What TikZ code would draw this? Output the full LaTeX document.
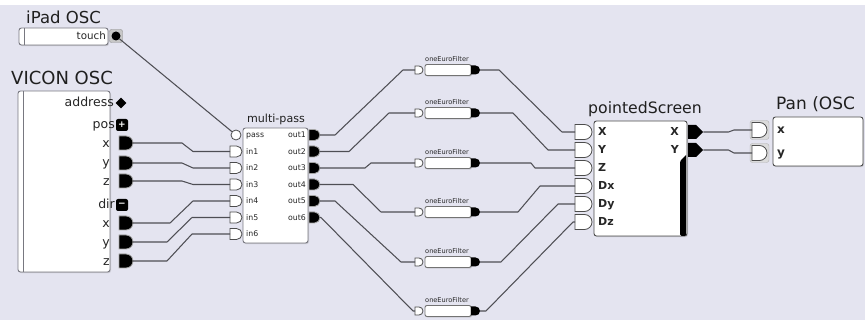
\documentclass[tikz,border=0pt]{standalone}
\usepackage{fontspec}
\setmainfont{DejaVu Sans}
\usetikzlibrary{shapes.misc,shapes.symbols,shapes.geometric,shadows}
\definecolor{bgc}{RGB}{228,228,240}
\definecolor{wirec}{RGB}{78,78,84}
\definecolor{edgec}{RGB}{120,120,128}
\newcommand{\fs}[1]{\fontsize{#1}{#1}\selectfont}
\begin{document}
\begin{tikzpicture}[x=1pt,y=-1pt,
  wire/.style={draw=wirec, line width=1.05pt, line join=round},
  module/.style={draw=edgec, line width=0.9pt, fill=white, rounded corners=2.5pt, inner sep=0, outer sep=0, drop shadow={shadow xshift=1pt, shadow yshift=-1.2pt, opacity=0.25}},
  title/.style={font=\fs{#1}, text=black!88, inner sep=0},
  plabel/.style={font=\fs{#1}, text=black!85, inner sep=0},
  dinport/.style n args={2}{rounded rectangle, rounded rectangle west arc=none, draw=black!70, fill=white, line width=0.8pt, inner sep=0, outer sep=0, minimum width=#1, minimum height=#2, anchor=west},
  doutport/.style n args={2}{rounded rectangle, rounded rectangle west arc=none, draw=black!35, fill=black, line width=0.8pt, inner sep=0, outer sep=0, minimum width=#1, minimum height=#2, anchor=west},
  strip/.style={draw=edgec, line width=0.8pt}
]
\fill[white] (0,0) rectangle (865,320);
\fill[bgc] (0,5) rectangle (865,320);
\useasboundingbox (0,0) rectangle (865,320);

% ---------- iPad OSC
\node[title=16.5, anchor=base west] (ipadT) at (26,24) {iPad OSC};
\node[module, minimum width=89pt, minimum height=17pt, anchor=north west] (ipad) at (19,28) {};
\draw[strip] ([xshift=5pt]ipad.north west) -- ([xshift=5pt]ipad.south west);
\node[plabel=10.3, anchor=base east] (touchL) at (106,40) {touch};
\node[draw=black!45, fill=black!22, rounded corners=2pt, minimum size=13pt, inner sep=0] (touchH) at (116,36) {};
\node[circle, fill=black, minimum size=9pt, inner sep=0] (touch) at (116,36) {};

% ---------- VICON OSC
\node[title=18, anchor=base west] (viconT) at (11,85) {VICON OSC};
\node[module, minimum width=92pt, minimum height=181pt, anchor=north west] (vicon) at (18,91) {};
\draw[strip] ([xshift=5pt]vicon.north west) -- ([xshift=5pt]vicon.south west);
\node[plabel=12.5, anchor=base east] (vaddrL) at (114,107) {address};
\node[diamond, fill=black, minimum size=11pt, inner sep=0] (vaddr) at (121,103) {};
\node[plabel=12.5, anchor=base east] (vposL) at (115,129) {pos};
\node[fill=black, rounded corners=2pt, minimum size=12pt, inner sep=0, text=white, font=\bfseries\fs{9}] (vpos) at (122,125) {+};
\node[plabel=12.5, anchor=base east] (vpxL) at (110,148) {x};
\node[doutport={14pt}{14pt}] (vpx) at (119,143) {};
\node[plabel=12.5, anchor=base east] (vpyL) at (110,167) {y};
\node[doutport={14pt}{14pt}] (vpy) at (119,163) {};
\node[plabel=12.5, anchor=base east] (vpzL) at (110,186) {z};
\node[doutport={14pt}{14pt}] (vpz) at (119,181) {};
\node[plabel=12.5, anchor=base east] (vdirL) at (115,209) {dir};
\node[fill=black, rounded corners=2pt, minimum size=12pt, inner sep=0, text=white, font=\bfseries\fs{9}] (vdir) at (122,205) {−};
\node[plabel=12.5, anchor=base east] (vdxL) at (110,228) {x};
\node[doutport={14pt}{14pt}] (vdx) at (119,223) {};
\node[plabel=12.5, anchor=base east] (vdyL) at (110,247) {y};
\node[doutport={14pt}{14pt}] (vdy) at (119,242) {};
\node[plabel=12.5, anchor=base east] (vdzL) at (110,266) {z};
\node[doutport={14pt}{14pt}] (vdz) at (119,261) {};

% ---------- multi-pass
\node[title=11.1, anchor=base] (mpT) at (276,123) {multi-pass};
\node[module, minimum width=65pt, minimum height=115pt, anchor=north west] (mp) at (243,128) {};
\node[circle, draw=black!70, fill=white, line width=0.8pt, minimum size=10pt, inner sep=0] (pass) at (236,135) {};
\node[dinport={12pt}{11pt}] (in1) at (230,151.5) {};
\node[dinport={12pt}{11pt}] (in2) at (230,168) {};
\node[dinport={12pt}{11pt}] (in3) at (230,184.5) {};
\node[dinport={12pt}{11pt}] (in4) at (230,201) {};
\node[dinport={12pt}{11pt}] (in5) at (230,217.5) {};
\node[dinport={12pt}{11pt}] (in6) at (230,234) {};
\node[plabel=7.8, anchor=base west] (passL) at (246,138) {pass};
\node[plabel=7.8, anchor=base west] (in1L) at (246,154.5) {in1};
\node[plabel=7.8, anchor=base west] (in2L) at (246,171) {in2};
\node[plabel=7.8, anchor=base west] (in3L) at (246,187.5) {in3};
\node[plabel=7.8, anchor=base west] (in4L) at (246,204) {in4};
\node[plabel=7.8, anchor=base west] (in5L) at (246,220.5) {in5};
\node[plabel=7.8, anchor=base west] (in6L) at (246,237) {in6};
\node[doutport={11pt}{11pt}] (out1) at (309,135) {};
\node[doutport={11pt}{11pt}] (out2) at (309,151.5) {};
\node[doutport={11pt}{11pt}] (out3) at (309,168) {};
\node[doutport={11pt}{11pt}] (out4) at (309,184.5) {};
\node[doutport={11pt}{11pt}] (out5) at (309,201) {};
\node[doutport={11pt}{11pt}] (out6) at (309,217.5) {};
\node[plabel=7.8, anchor=base east] (out1L) at (306,138) {out1};
\node[plabel=7.8, anchor=base east] (out2L) at (306,154.5) {out2};
\node[plabel=7.8, anchor=base east] (out3L) at (306,171) {out3};
\node[plabel=7.8, anchor=base east] (out4L) at (306,187.5) {out4};
\node[plabel=7.8, anchor=base east] (out5L) at (306,204) {out5};
\node[plabel=7.8, anchor=base east] (out6L) at (306,220.5) {out6};

% ---------- oneEuroFilters
\foreach \i/\y in {1/70,2/113,3/163,4/212,5/262,6/311}{
  \node[plabel=6.6, anchor=base] (fT\i) at (447,\y-8) {oneEuroFilter};
  \node[module, minimum width=46pt, minimum height=11pt, rounded corners=2pt, draw=black!55] (f\i) at (448,\y) {};
  \node[dinport={8pt}{8pt}] (fin\i) at (415,\y) {};
  \node[doutport={8pt}{9pt}, draw=none] (fout\i) at (471,\y) {};
}

% ---------- pointedScreen
\node[title=15.7, anchor=base] (psT) at (645,114) {pointedScreen};
\node[module, draw=black!70, minimum width=93pt, minimum height=115pt, anchor=north west] (ps) at (594,121) {};
\fill[black] (680,161) -- (686,155) -- (686,234) [rounded corners=1.5pt] -- (686,236) -- (680,236) -- cycle;
\node[dinport={17pt}{15pt}] (psX) at (575,132) {};
\node[dinport={17pt}{15pt}] (psY) at (575,150) {};
\node[dinport={17pt}{15pt}] (psZ) at (575,168) {};
\node[dinport={17pt}{15pt}] (psDx) at (575,186) {};
\node[dinport={17pt}{15pt}] (psDy) at (575,204) {};
\node[dinport={17pt}{15pt}] (psDz) at (575,222) {};
\node[plabel=11, anchor=base west, font=\bfseries\fs{11}] (psXL) at (598,136) {X};
\node[plabel=11, anchor=base west, font=\bfseries\fs{11}] (psYL) at (598,154) {Y};
\node[plabel=11, anchor=base west, font=\bfseries\fs{11}] (psZL) at (598,172) {Z};
\node[plabel=11, anchor=base west, font=\bfseries\fs{11}] (psDxL) at (598,190) {Dx};
\node[plabel=11, anchor=base west, font=\bfseries\fs{11}] (psDyL) at (598,208) {Dy};
\node[plabel=11, anchor=base west, font=\bfseries\fs{11}] (psDzL) at (598,226) {Dz};
\node[plabel=11, anchor=base east, font=\bfseries\fs{11}] (psoXL) at (679,136) {X};
\node[plabel=11, anchor=base east, font=\bfseries\fs{11}] (psoYL) at (679,154) {Y};
\node[signal, signal to=east, fill=black, minimum width=15pt, minimum height=14pt, inner sep=0, anchor=west] (psoX) at (688,132) {};
\node[signal, signal to=east, fill=black, minimum width=15pt, minimum height=14pt, inner sep=0, anchor=west] (psoY) at (688,150) {};

% ---------- Pan (OSC
\node[title=17, anchor=base west] (panT) at (776,110) {Pan (OSC};
\node[module, draw=black!70, minimum width=90pt, minimum height=49pt, anchor=north west] (pan) at (773,117) {};
\node[draw=black!30, fill=black!14, rounded corners=2.5pt, minimum width=19pt, minimum height=19pt, inner sep=0] (panxH) at (759.5,130) {};
\node[draw=black!30, fill=black!14, rounded corners=2.5pt, minimum width=19pt, minimum height=19pt, inner sep=0] (panyH) at (759.5,153) {};
\node[dinport={15pt}{15pt}] (panx) at (752,130) {};
\node[dinport={15pt}{15pt}] (pany) at (752,153) {};
\node[plabel=12, anchor=base west, font=\bfseries\fs{12}] (panxL) at (777,134) {x};
\node[plabel=12, anchor=base west, font=\bfseries\fs{12}] (panyL) at (777,157) {y};

% ---------- connectors
\draw[wire] (touch) -- (pass);
\draw[wire] (vpx.east) -- ([xshift=49pt]vpx.east) -- ([xshift=-37pt]in1.west) -- (in1.west);
\draw[wire] (vpy.east) -- ([xshift=49pt]vpy.east) -- ([xshift=-37pt]in2.west) -- (in2.west);
\draw[wire] (vpz.east) -- ([xshift=49pt]vpz.east) -- ([xshift=-37pt]in3.west) -- (in3.west);
\draw[wire] (vdx.east) -- ([xshift=37pt]vdx.east) -- ([xshift=-37pt]in4.west) -- (in4.west);
\draw[wire] (vdy.east) -- ([xshift=34pt]vdy.east) -- ([xshift=-38pt]in5.west) -- (in5.west);
\draw[wire] (vdz.east) -- ([xshift=34pt]vdz.east) -- ([xshift=-38pt]in6.west) -- (in6.west);

\draw[wire] (out1.east) -- ([xshift=15pt]out1.east) -- ([xshift=-12pt]fin1.west) -- (fin1.west);
\draw[wire] (out2.east) -- ([xshift=29pt]out2.east) -- ([xshift=-26pt]fin2.west) -- (fin2.west);
\draw[wire] (out3.east) -- ([xshift=45pt]out3.east) -- ([xshift=-44pt]fin3.west) -- (fin3.west);
\draw[wire] (out4.east) -- ([xshift=33pt]out4.east) -- ([xshift=-34pt]fin4.west) -- (fin4.west);
\draw[wire] (out5.east) -- ([xshift=15pt]out5.east) -- ([xshift=-14pt]fin5.west) -- (fin5.west);
\draw[wire] (out6.east) -- ([xshift=1pt]out6.east) -- ([xshift=-2pt]fin6.west) -- (fin6.west);

\draw[wire] (fout1.east) -- ([xshift=19pt]fout1.east) -- ([xshift=-13pt]psX.west) -- (psX.west);
\draw[wire] (fout2.east) -- ([xshift=33pt]fout2.east) -- ([xshift=-27pt]psY.west) -- (psY.west);
\draw[wire] (fout3.east) -- ([xshift=51pt]fout3.east) -- ([xshift=-40pt]psZ.west) -- (psZ.west);
\draw[wire] (fout4.east) -- ([xshift=38pt]fout4.east) -- ([xshift=-35pt]psDx.west) -- (psDx.west);
\draw[wire] (fout5.east) -- ([xshift=21pt]fout5.east) -- ([xshift=-17pt]psDy.west) -- (psDy.west);
\draw[wire] (fout6.east) -- ([xshift=6pt]fout6.east) -- ([xshift=-2pt]psDz.west) -- (psDz.west);

\draw[wire] (psoX.east) -- ([xshift=25pt]psoX.east) -- ([xshift=-18pt]panx.west) -- (panx.west);
\draw[wire] (psoY.east) -- ([xshift=25pt]psoY.east) -- ([xshift=-18pt]pany.west) -- (pany.west);
\end{tikzpicture}
\end{document}
